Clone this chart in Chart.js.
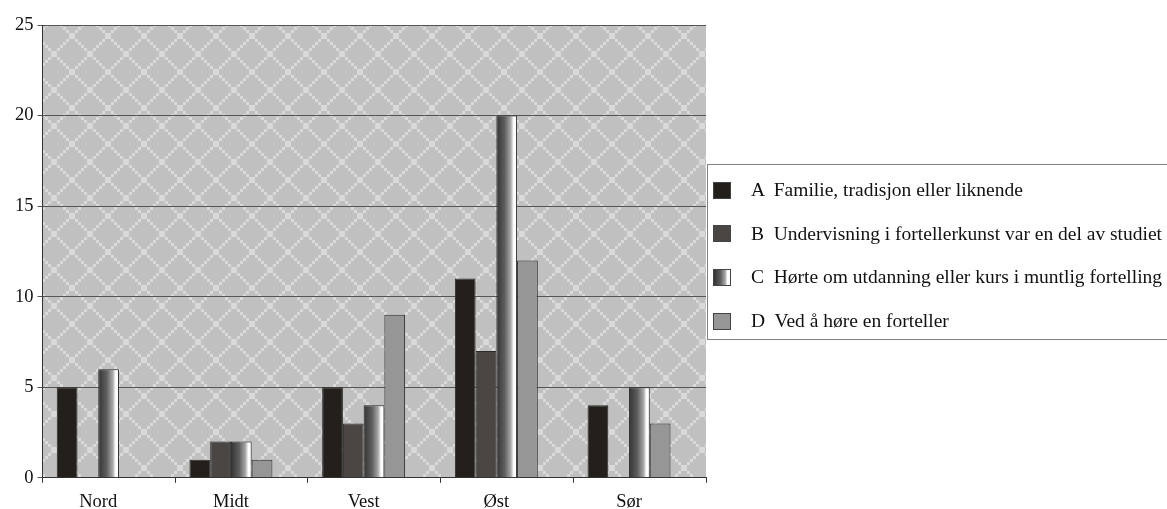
<!DOCTYPE html>
<html>
<head>
<meta charset="utf-8">
<script src="https://cdn.jsdelivr.net/npm/chart.js@4"></script>
<style>
  html, body { margin: 0; padding: 0; background: #fff; }
  #wrap { position: relative; width: 1167px; height: 509px; overflow: hidden; }
  canvas { position: absolute; left: 0; top: 0; }
  #legend { position: absolute; left: 707px; top: 164px; width: 462px; height: 176px;
    border: 1px solid #808080; box-sizing: border-box; font-family: 'Liberation Serif', 'Times New Roman', serif;
    font-size: 19.5px; color: #111; }
  .item { position: absolute; left: 5px; height: 20px; display: flex; align-items: center; white-space: pre; }
  .sw { width: 18px; height: 17px; border: 1px solid #444; margin-right: 20px; box-sizing: border-box; flex: none; }
</style>
</head>
<body>
<div id="wrap">
  <canvas id="c" width="1167" height="509"></canvas>
  <div id="legend"></div>
</div>
<script>
const categories = ['Nord', 'Midt', 'Vest', 'Øst', 'Sør'];
const seriesNames = [
  'A  Familie, tradisjon eller liknende',
  'B  Undervisning i fortellerkunst var en del av studiet',
  'C  Hørte om utdanning eller kurs i muntlig fortelling',
  'D  Ved å høre en forteller'
];
const seriesA = [5, 1, 5, 11, 4];
const seriesB = [0, 2, 3, 7, 0];
const seriesC = [6, 2, 4, 20, 5];
const seriesD = [0, 1, 9, 12, 3];
const yTicks = [0, 5, 10, 15, 20, 25];

const CAT_PCT = 0.625;
const FONT = "'Liberation Serif', 'Times New Roman', serif";

// background lattice pattern
function makePattern() {
  const t = document.createElement('canvas');
  t.width = 36; t.height = 36;
  const g = t.getContext('2d');
  g.fillStyle = '#c0c0c0';
  g.fillRect(0, 0, 36, 36);
  g.fillStyle = '#d9d9d9';
  for (let i = 0; i < 36; i += 3) {
    g.fillRect(i, i, 3, 3);
    g.fillRect(33 - i, i, 3, 3);
  }
  return g.createPattern(t, 'repeat');
}

const bgPlugin = {
  id: 'bgpat',
  beforeDraw(chart) {
    const { ctx, chartArea: a } = chart;
    ctx.save();
    ctx.fillStyle = makePattern();
    ctx.fillRect(a.left, a.top, a.right - a.left, a.bottom - a.top);
    ctx.restore();
  }
};

function gradC(ctx) {
  const chart = ctx.chart;
  const xs = chart.scales && chart.scales.x;
  if (!xs || ctx.dataIndex === undefined) return '#888';
  const c = xs.getPixelForValue(ctx.dataIndex);
  const unit = xs.getPixelForValue(1) - xs.getPixelForValue(0);
  const w = unit * CAT_PCT / 4;
  if (!isFinite(c) || !isFinite(w)) return '#888';
  const g = chart.ctx.createLinearGradient(c, 0, c + w, 0);
  g.addColorStop(0, '#333333');
  g.addColorStop(0.4, '#5e5e5e');
  g.addColorStop(0.7, '#a8a8a8');
  g.addColorStop(0.84, '#ffffff');
  g.addColorStop(1, '#ffffff');
  return g;
}

const toPts = arr => arr.map((v, i) => ({ x: i, y: v }));

const colors = ['#23201c', '#4a4644', null, '#969696'];
const series = [seriesA, seriesB, seriesC, seriesD];

const datasets = series.map((s, k) => ({
  label: seriesNames[k],
  data: toPts(s),
  backgroundColor: k === 2 ? gradC : colors[k],
  borderColor: '#2a2a2a',
  borderWidth: 1,
  xAxisID: 'x',
  yAxisID: 'y'
}));

new Chart(document.getElementById('c'), {
  type: 'bar',
  data: { datasets },
  plugins: [bgPlugin],
  options: {
    responsive: false,
    animation: false,
    layout: { padding: { left: 11, right: 461, top: 25, bottom: -12 } },
    datasets: { bar: { categoryPercentage: CAT_PCT, barPercentage: 1 } },
    plugins: { legend: { display: false }, tooltip: { enabled: false } },
    scales: {
      x2: {
        type: 'category',
        labels: categories,
        position: 'bottom',
        offset: true,
        grid: { offset: true, drawOnChartArea: false, drawTicks: true, tickLength: 5, color: '#333' },
        border: { display: true, color: '#333', width: 1 },
        ticks: { display: false }
      },
      x: {
        type: 'linear',
        position: 'bottom',
        offset: false,
        min: -0.42,
        max: 4.58,
        afterBuildTicks: (axis) => { axis.ticks = categories.map((_, i) => ({ value: i })); },
        grid: { display: false, drawTicks: false },
        border: { display: false },
        ticks: {
          includeBounds: false,
          padding: 8,
          color: '#111',
          font: { family: FONT, size: 18.5 },
          callback: (v) => categories[v] ?? ''
        }
      },
      y: {
        min: 0,
        max: 25,
        afterBuildTicks: (axis) => { axis.ticks = yTicks.map(v => ({ value: v })); },
        grid: { color: '#555', lineWidth: 1, tickLength: 5, drawTicks: true },
        border: { display: true, color: '#333', width: 1 },
        ticks: { padding: 4, color: '#111', font: { family: FONT, size: 18.5 } }
      }
    }
  }
});

// legend built from the series arrays
const lg = document.getElementById('legend');
const swatchBg = [
  '#23201c', '#4a4644',
  'linear-gradient(to right, #333 0%, #5e5e5e 40%, #a8a8a8 70%, #fff 84%, #fff 100%)',
  '#969696'
];
seriesNames.forEach((name, k) => {
  const it = document.createElement('div');
  it.className = 'item';
  it.style.top = (15 + k * 43.7) + 'px';
  const sw = document.createElement('div');
  sw.className = 'sw';
  sw.style.background = swatchBg[k];
  const tx = document.createElement('span');
  tx.textContent = name;
  it.appendChild(sw); it.appendChild(tx);
  lg.appendChild(it);
});
</script>
</body>
</html>
